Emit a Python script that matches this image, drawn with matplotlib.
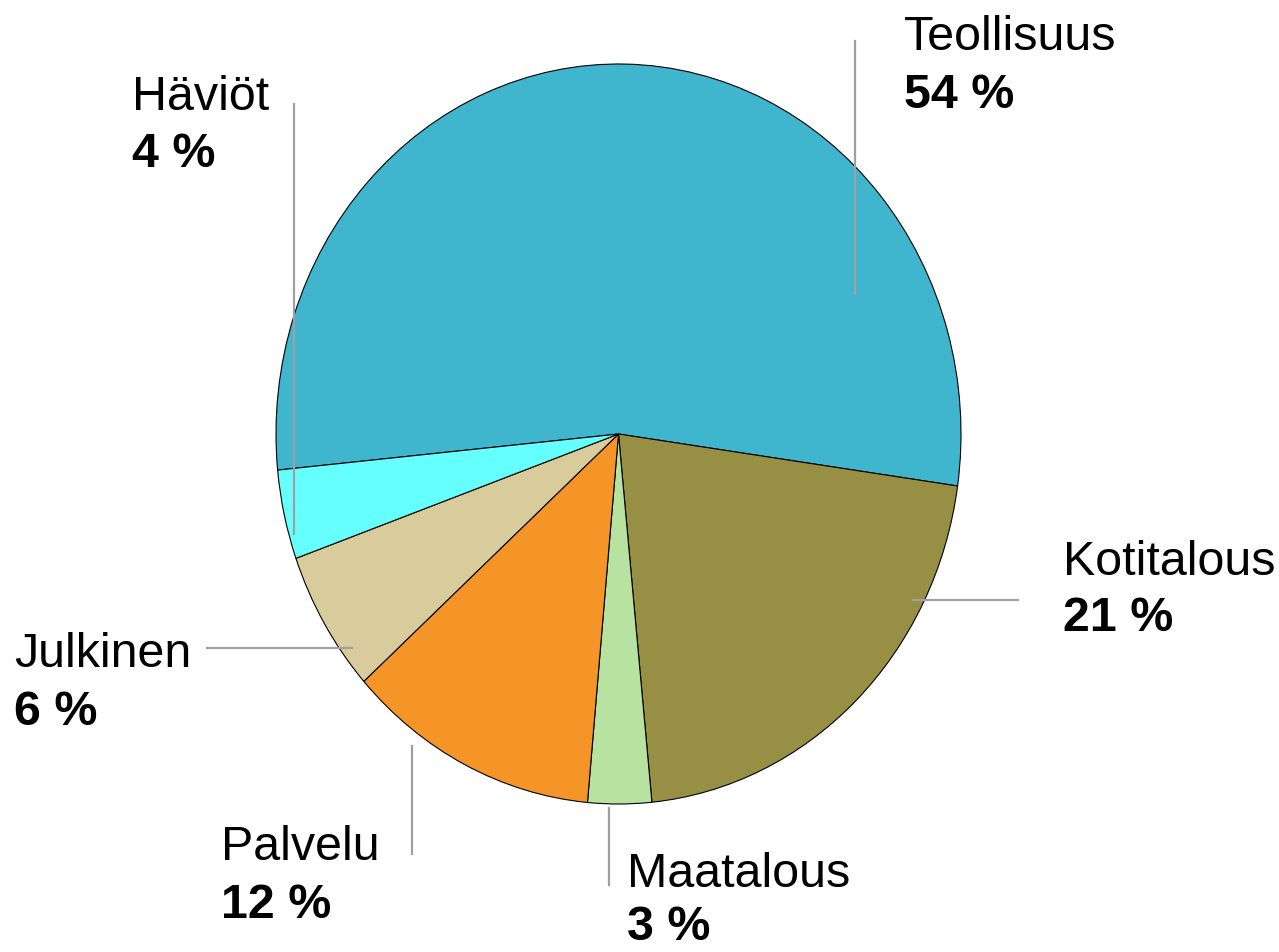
import matplotlib
matplotlib.use("Agg")
import matplotlib.pyplot as plt
from matplotlib.lines import Line2D

plt.rcParams['font.family'] = ['Liberation Sans', 'DejaVu Sans']

categories = ["Teollisuus", "Kotitalous", "Maatalous", "Palvelu", "Julkinen", "Häviöt"]
values = [53.8, 21.2, 3.0, 11.9, 6.2, 3.9]
pct_labels = ["54 %", "21 %", "3 %", "12 %", "6 %", "4 %"]

colors = ["#3FB6CD", "#978F43", "#B8E2A0", "#F69527", "#D8CB9C", "#66FFFF"]

W, H = 1279, 953
fig = plt.figure(figsize=(W / 100, H / 100), dpi=100)

# pie axes region in pixels (left, right, top, bottom)
L, R, T, B = 276, 961, 65, 805
ax = fig.add_axes([L / W, 1 - B / H, (R - L) / W, (B - T) / H])
ax.pie(values, colors=colors, startangle=185.6, counterclock=False,
       wedgeprops=dict(edgecolor="black", linewidth=0.8))
ax.set_aspect('auto')
ax.set_xlim(-1, 1)
ax.set_ylim(-1, 1)
ax.axis('off')

# label positions (pixels): text x, name baseline, pct baseline
label_pos = {
    "Teollisuus": (904, 50, 108),
    "Kotitalous": (1063, 575, 631),
    "Maatalous": (627, 887, 940),
    "Palvelu": (221, 860, 918),
    "Julkinen": (14, 667, 725),
    "Häviöt": (132, 110, 167),
}
# leader lines (pixels): x0, y0, x1, y1
leaders = {
    "Teollisuus": (855, 42, 855, 295),
    "Kotitalous": (913, 601, 1018, 601),
    "Maatalous": (609, 809, 609, 886),
    "Palvelu": (412, 747, 412, 855),
    "Julkinen": (207, 649, 352, 649),
    "Häviöt": (294, 105, 294, 535),
}

fs = 34.8
for cat, pct in zip(categories, pct_labels):
    x, yb1, yb2 = label_pos[cat]
    fig.text(x / W, 1 - yb1 / H, cat, fontsize=fs, ha='left', va='baseline', color='black')
    fig.text(x / W, 1 - yb2 / H, pct, fontsize=fs, fontweight='bold', ha='left', va='baseline', color='black')
    x0, y0, x1, y1 = leaders[cat]
    fig.add_artist(Line2D([x0 / W, x1 / W], [1 - y0 / H, 1 - y1 / H], transform=fig.transFigure,
                          color="#A0A0A0", linewidth=1.6, zorder=5))

fig.savefig("out.png", dpi=100)
